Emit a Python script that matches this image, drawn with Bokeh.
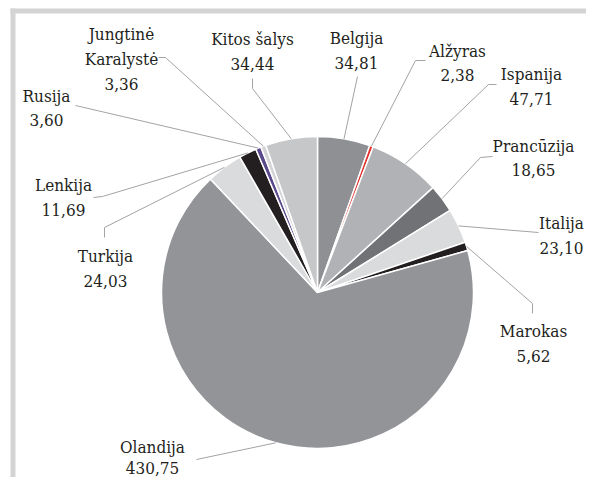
import math
import numpy as np
from bokeh.plotting import figure
from bokeh.models import Range1d
from bokeh.core.properties import value
from bokeh.embed import file_html
from bokeh.resources import INLINE

# ---- data ----
countries = ["Belgija", "Alžyras", "Ispanija", "Prancūzija", "Italija", "Marokas",
             "Olandija", "Turkija", "Lenkija", "Rusija", "Jungtinė Karalystė", "Kitos šalys"]
values = [34.81, 2.38, 47.71, 18.65, 23.10, 5.62, 430.75, 24.03, 11.69, 3.60, 3.36, 34.44]
label_lines = [["Belgija"], ["Alžyras"], ["Ispanija"], ["Prancūzija"], ["Italija"], ["Marokas"],
               ["Olandija"], ["Turkija"], ["Lenkija"], ["Rusija"], ["Jungtinė", "Karalystė"], ["Kitos šalys"]]
colors = ["#8f9094", "#e0302c", "#b1b2b5", "#717275", "#dadbdd", "#231f20",
          "#939498", "#dadbdd", "#231f20", "#5a4a8c", "#d3d4d6", "#c6c7c9"]

# ---- layout (pixel coordinates from the top-left of the figure) ----
W, H = 586, 477
def py(Y):
    return H - Y

cx, cy, R = 317, 292, 156
# first line centre of each label
label_pos = [(356, 37), (457, 50), (531, 73), (533, 145), (561, 222), (533, 330),
             (152, 446), (105, 255), (63, 184), (46, 95), (121, 33), (252, 38)]
line_gaps = [25, 24, 25, 24, 25, 25, 21, 25, 25, 24, 25, 25]
# leader bend / end points
leader_pts = [
    [(357, 76)],
    [(415, 60), (425, 60)],
    [(488, 84), (496, 84)],
    [(480, 157), (492, 156)],
    [(538, 232)],
    [(532, 303), (532, 313)],
    [(196, 459)],
    [(104, 227), (104, 237)],
    [(102, 196), (93, 197)],
    [(75, 105)],
    [(165, 57), (158, 57)],
    [(252, 88), (252, 78)],
]

total = sum(values)
cum = np.concatenate([[0.0], np.cumsum(values)])
start_angles = [math.pi / 2 - 2 * math.pi * cum[i] / total for i in range(len(values))]
end_angles = [math.pi / 2 - 2 * math.pi * cum[i + 1] / total for i in range(len(values))]
mid_angles = [math.pi / 2 - 2 * math.pi * (cum[i] + values[i] / 2) / total for i in range(len(values))]

p = figure(width=W, height=H, output_backend="svg", toolbar_location=None,
           x_range=Range1d(0, W), y_range=Range1d(0, H),
           x_axis_type=None, y_axis_type=None, min_border=0)
p.outline_line_color = None
p.grid.visible = False
p.background_fill_color = "white"
p.border_fill_color = "white"

# frame bars (top and left)
p.quad(left=[10, 10], right=[W, 15], top=[py(8), py(8)], bottom=[py(13), py(H)],
       fill_color="#d4d4d4", line_color=None)

# pie
p.wedge(x=cx, y=py(cy), radius=R, start_angle=start_angles, end_angle=end_angles,
        direction="clock", fill_color=colors, line_color="white", line_width=1.5)

# leader lines
xs, ys = [], []
for i, pts in enumerate(leader_pts):
    a = mid_angles[i]
    sx = cx + R * math.cos(a)
    sy = py(cy) + R * math.sin(a)
    xs.append([sx] + [q[0] for q in pts])
    ys.append([sy] + [py(q[1]) for q in pts])
p.multi_line(xs=xs, ys=ys, line_color="#a3a3a3", line_width=1)

# labels
tx, ty, tt = [], [], []
for i, lines in enumerate(label_lines):
    x0, y0 = label_pos[i]
    all_lines = lines + [f"{values[i]:.2f}".replace(".", ",")]
    for k, s in enumerate(all_lines):
        tx.append(x0)
        ty.append(py(y0 + k * line_gaps[i]))
        tt.append(s)
p.text(x=tx, y=ty, text=tt, text_align="center", text_baseline="middle",
       text_font=value("DejaVu Serif Condensed, DejaVu Serif"),
       text_font_size="17px", text_color="#231f20")

open("out.html", "w").write(file_html(p, INLINE))
